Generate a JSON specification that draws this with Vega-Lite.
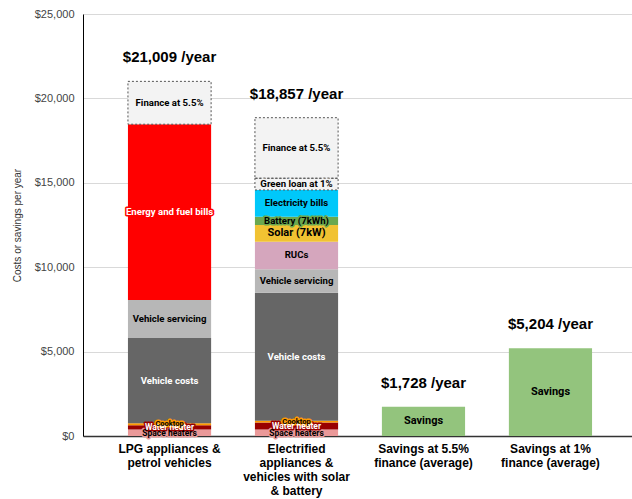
{
  "$schema": "https://vega.github.io/schema/vega-lite/v6.json",
  "width": 549,
  "height": 422,
  "autosize": "none",
  "padding": {"left": 83, "top": 14, "right": 0, "bottom": 63},
  "background": "white",
  "config": {"view": {"stroke": null}, "font": "Liberation Sans"},
  "datasets": {
    "segments": [
      {"cat": "LPG appliances &|petrol vehicles", "seg": "Space heaters", "order": 1, "value": 380},
      {"cat": "LPG appliances &|petrol vehicles", "seg": "Water heater", "order": 2, "value": 250},
      {"cat": "LPG appliances &|petrol vehicles", "seg": "Cooktop", "order": 3, "value": 130},
      {"cat": "LPG appliances &|petrol vehicles", "seg": "Vehicle costs", "order": 4, "value": 5050},
      {"cat": "LPG appliances &|petrol vehicles", "seg": "Vehicle servicing", "order": 5, "value": 2250},
      {"cat": "LPG appliances &|petrol vehicles", "seg": "Energy and fuel bills", "order": 6, "value": 10410},
      {"cat": "LPG appliances &|petrol vehicles", "seg": "Finance at 5.5%", "order": 7, "value": 2539},
      {"cat": "Electrified|appliances &|vehicles with solar|& battery", "seg": "Space heaters", "order": 1, "value": 380},
      {"cat": "Electrified|appliances &|vehicles with solar|& battery", "seg": "Water heater", "order": 2, "value": 420},
      {"cat": "Electrified|appliances &|vehicles with solar|& battery", "seg": "Cooktop", "order": 3, "value": 100},
      {"cat": "Electrified|appliances &|vehicles with solar|& battery", "seg": "Vehicle costs", "order": 4, "value": 7590},
      {"cat": "Electrified|appliances &|vehicles with solar|& battery", "seg": "Vehicle servicing", "order": 5, "value": 1390},
      {"cat": "Electrified|appliances &|vehicles with solar|& battery", "seg": "RUCs", "order": 6, "value": 1635},
      {"cat": "Electrified|appliances &|vehicles with solar|& battery", "seg": "Solar (7kW)", "order": 7, "value": 990},
      {"cat": "Electrified|appliances &|vehicles with solar|& battery", "seg": "Battery (7kWh)", "order": 8, "value": 490},
      {"cat": "Electrified|appliances &|vehicles with solar|& battery", "seg": "Electricity bills", "order": 9, "value": 1580},
      {"cat": "Electrified|appliances &|vehicles with solar|& battery", "seg": "Green loan at 1%", "order": 10, "value": 695},
      {"cat": "Electrified|appliances &|vehicles with solar|& battery", "seg": "Finance at 5.5%", "order": 11, "value": 3587},
      {"cat": "Savings at 5.5%|finance (average)", "seg": "Savings", "order": 1, "value": 1728},
      {"cat": "Savings at 1%|finance (average)", "seg": "Savings", "order": 1, "value": 5204}
    ],
    "totals": [
      {"cat": "LPG appliances &|petrol vehicles", "total": 21009, "label": "$21,009 /year"},
      {"cat": "Electrified|appliances &|vehicles with solar|& battery", "total": 18857, "label": "$18,857 /year"},
      {"cat": "Savings at 5.5%|finance (average)", "total": 1728, "label": "$1,728 /year"},
      {"cat": "Savings at 1%|finance (average)", "total": 5204, "label": "$5,204 /year"}
    ]
  },
  "layer": [
    {
      "data": {"name": "segments"},
      "transform": [
        {"stack": "value", "groupby": ["cat"], "sort": [{"field": "order", "order": "ascending"}], "as": ["y0", "y1"]},
        {"calculate": "(datum.y0 + datum.y1) / 2", "as": "mid"}
      ],
      "layer": [
        {
          "mark": {"type": "bar"},
          "encoding": {
            "x": {
              "field": "cat", "type": "nominal",
              "scale": {
                "domain": ["LPG appliances &|petrol vehicles", "Electrified|appliances &|vehicles with solar|& battery", "Savings at 5.5%|finance (average)", "Savings at 1%|finance (average)"],
                "range": [0, 554],
                "paddingInner": 0.345,
                "paddingOuter": 0.354
              },
              "axis": {
                "title": null,
                "labelExpr": "split(datum.label, '|')",
                "labelAngle": 0,
                "labelFont": "Liberation Sans",
                "labelFontSize": 12,
                "labelFontWeight": "bold",
                "labelColor": "#000000",
                "labelLineHeight": 14,
                "labelBaseline": "top",
                "labelPadding": 7,
                "ticks": false,
                "domainColor": "#333333",
                "domainWidth": 1.5,
                "labelLimit": 200
              }
            },
            "y": {
              "field": "y1", "type": "quantitative",
              "scale": {"domain": [0, 25000], "nice": false},
              "axis": {
                "title": "Costs or savings per year",
                "titleFont": "Liberation Sans",
                "titleFontSize": 10,
                "titleFontWeight": "normal",
                "titleColor": "#333333",
                "titlePadding": 12,
                "values": [0, 5000, 10000, 15000, 20000, 25000],
                "format": "$,.0f",
                "labelFont": "Liberation Sans",
                "labelFontSize": 11,
                "labelColor": "#444444",
                "labelPadding": 9,
                "ticks": false,
                "grid": true,
                "gridColor": "#d9d9d9",
                "domainColor": "#000000"
              }
            },
            "y2": {"field": "y0"},
            "color": {
              "field": "seg", "type": "nominal", "legend": null,
              "scale": {
                "domain": ["Space heaters", "Water heater", "Cooktop", "Vehicle costs", "Vehicle servicing", "Energy and fuel bills", "Finance at 5.5%", "RUCs", "Solar (7kW)", "Battery (7kWh)", "Electricity bills", "Green loan at 1%", "Savings"],
                "range": ["#ea9999", "#990000", "#ff9900", "#666666", "#b7b7b7", "#ff0000", "#f3f3f3", "#d5a6bd", "#f1c232", "#6aa84f", "#00c8fa", "#f3f3f3", "#93c47d"]
              }
            }
          }
        },
        {
          "transform": [{"filter": "datum.seg == 'Finance at 5.5%' || datum.seg == 'Green loan at 1%'"}],
          "mark": {"type": "bar", "fill": "transparent", "stroke": "#555555", "strokeDash": [2, 2], "strokeWidth": 1},
          "encoding": {
            "x": {"field": "cat", "type": "nominal"},
            "y": {"field": "y1", "type": "quantitative"},
            "y2": {"field": "y0"}
          }
        },
        {
          "mark": {"type": "text", "font": "Roboto", "fontWeight": "bold", "strokeWidth": 3, "strokeJoin": "round", "baseline": "middle"},
          "encoding": {
            "x": {"field": "cat", "type": "nominal"},
            "y": {"field": "mid", "type": "quantitative"},
            "text": {"field": "seg"},
            "size": {
              "condition": [
                {"test": "datum.seg == 'Solar (7kW)' || datum.seg == 'Savings'", "value": 11},
                {"test": "datum.seg == 'Cooktop'", "value": 7.5},
                {"test": "datum.seg == 'Space heaters' || datum.seg == 'Water heater'", "value": 8.5}
              ],
              "value": 9.6
            },
            "stroke": {
              "field": "seg", "type": "nominal", "legend": null,
              "scale": {
                "domain": ["Space heaters", "Water heater", "Cooktop", "Vehicle costs", "Vehicle servicing", "Energy and fuel bills", "Finance at 5.5%", "RUCs", "Solar (7kW)", "Battery (7kWh)", "Electricity bills", "Green loan at 1%", "Savings"],
                "range": ["#ea9999", "#990000", "#ff9900", "#666666", "#b7b7b7", "#ff0000", "#f3f3f3", "#d5a6bd", "#f1c232", "#6aa84f", "#00c8fa", "#f3f3f3", "#93c47d"]
              }
            }
          }
        },
        {
          "mark": {"type": "text", "font": "Roboto", "fontWeight": "bold", "baseline": "middle"},
          "encoding": {
            "x": {"field": "cat", "type": "nominal"},
            "y": {"field": "mid", "type": "quantitative"},
            "text": {"field": "seg"},
            "size": {
              "condition": [
                {"test": "datum.seg == 'Solar (7kW)' || datum.seg == 'Savings'", "value": 11},
                {"test": "datum.seg == 'Cooktop'", "value": 7.5},
                {"test": "datum.seg == 'Space heaters' || datum.seg == 'Water heater'", "value": 8.5}
              ],
              "value": 9.6
            },
            "color": {"condition": {"test": "indexof(['Energy and fuel bills', 'Vehicle costs', 'Water heater'], datum.seg) >= 0", "value": "#ffffff"}, "value": "#000000"}
          }
        }
      ]
    },
    {
      "data": {"name": "totals"},
      "mark": {"type": "text", "font": "Liberation Sans", "fontSize": 15, "fontWeight": "bold", "baseline": "middle", "dy": -24, "color": "#000000"},
      "encoding": {
        "x": {"field": "cat", "type": "nominal"},
        "y": {"field": "total", "type": "quantitative"},
        "text": {"field": "label"}
      }
    }
  ]
}
